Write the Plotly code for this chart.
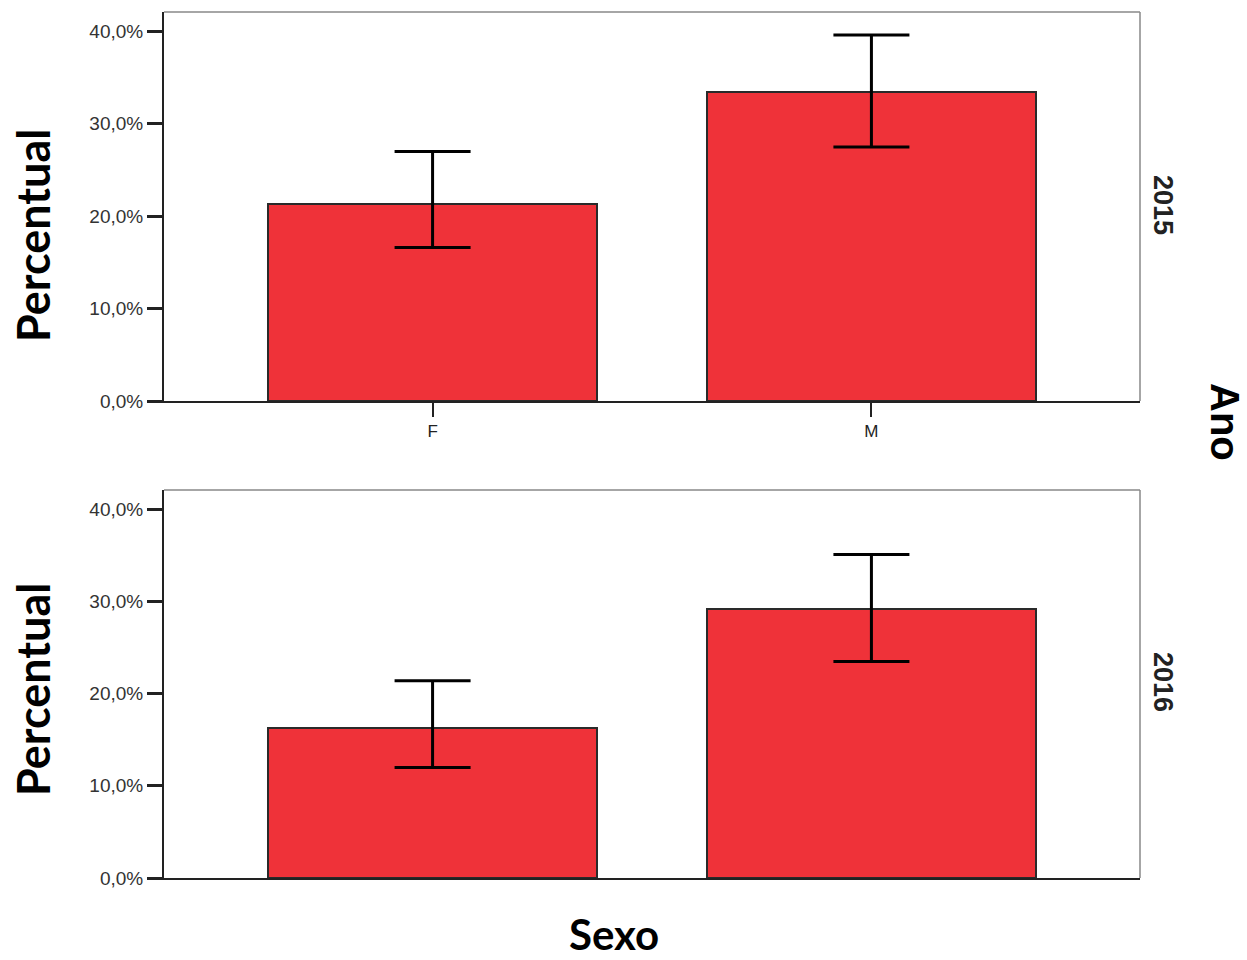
import plotly.graph_objects as go
from plotly.subplots import make_subplots

categories = ["F", "M"]
years = ["2015", "2016"]
values_2015 = [21.35, 33.4]
err_hi_2015 = [27.0, 39.6]
err_lo_2015 = [16.6, 27.5]
values_2016 = [16.25, 29.2]
err_hi_2016 = [21.4, 35.1]
err_lo_2016 = [12.0, 23.5]
tick_vals = [0, 10, 20, 30, 40]
tick_text = ["0,0%", "10,0%", "20,0%", "30,0%", "40,0%"]

W, H = 1247, 960
ML, MR, MT, MB = 164, 107, 12, 82
PW, PH = W - ML - MR, H - MT - MB

fig = make_subplots(rows=2, cols=1, vertical_spacing=0.1)

series = [(values_2015, err_hi_2015, err_lo_2015), (values_2016, err_hi_2016, err_lo_2016)]
for i, (v, hi, lo) in enumerate(series):
    fig.add_trace(go.Bar(
        x=categories, y=v, width=0.75,
        marker=dict(color="#EF3239", line=dict(color="#2a2a2a", width=2)),
        error_y=dict(type="data", symmetric=False,
                     array=[h - b for h, b in zip(hi, v)],
                     arrayminus=[b - l for b, l in zip(v, lo)],
                     color="black", thickness=3, width=38),
        showlegend=False,
    ), row=i + 1, col=1)

top_dom = [(878 - 401) / PH, 1.0]
bot_dom = [0.0, (878 - 490) / PH]

axis_font = dict(family="Liberation Sans, Arial", size=19, color="#333")
for i, dom in enumerate([top_dom, bot_dom]):
    r = i + 1
    fig.update_yaxes(domain=dom, range=[0, 42.1], tickvals=tick_vals, ticktext=tick_text,
                     showgrid=False, zeroline=False, showline=True, linecolor="#222",
                     linewidth=2, ticks="outside", ticklen=15, tickwidth=3,
                     tickcolor="#222", tickfont=axis_font, row=r, col=1)
    fig.update_xaxes(range=[-0.612, 1.612], showgrid=False, showline=True,
                     linecolor="#222", linewidth=2,
                     ticks="outside" if r == 1 else "", ticklen=14, tickwidth=2,
                     tickcolor="#222", showticklabels=(r == 1),
                     tickfont=dict(family="Liberation Sans, Arial", size=17, color="#222"),
                     row=r, col=1)

# thin gray frame (top and right edges)
for xr, yr in [("x domain", "y domain"), ("x2 domain", "y2 domain")]:
    fig.add_shape(type="line", xref=xr, yref=yr, x0=0, x1=1, y0=1, y1=1,
                  line=dict(color="#888", width=1.5))
    fig.add_shape(type="line", xref=xr, yref=yr, x0=1, x1=1, y0=0, y1=1,
                  line=dict(color="#888", width=1.5))

title_font = dict(family="Lato, Open Sans, sans-serif", size=45, color="black")
ann = []
for yc in [236, 690]:
    ann.append(dict(text="<b>Percentual</b>", x=(33 - ML) / PW, y=(878 - yc) / PH,
                    xref="paper", yref="paper", showarrow=False, textangle=-90,
                    font=title_font, xanchor="center", yanchor="middle"))
ann.append(dict(text="<b>Sexo</b>", x=(614 - ML) / PW, y=(878 - 934) / PH,
                xref="paper", yref="paper", showarrow=False,
                font=dict(family="Lato, Open Sans, sans-serif", size=42, color="black"),
                xanchor="center", yanchor="middle"))
ann.append(dict(text="<b>Ano</b>", x=(1225 - ML) / PW, y=(878 - 422) / PH,
                xref="paper", yref="paper", showarrow=False, textangle=90,
                font=dict(family="Liberation Sans, Arial", size=40, color="black"),
                xanchor="center", yanchor="middle"))
for yr, yc in zip(years, [205, 682]):
    ann.append(dict(text="<b>%s</b>" % yr, x=(1163 - ML) / PW, y=(878 - yc) / PH,
                    xref="paper", yref="paper", showarrow=False, textangle=90,
                    font=dict(family="Liberation Sans, Arial", size=27, color="#222"),
                    xanchor="center", yanchor="middle"))

fig.update_layout(width=W, height=H, margin=dict(l=ML, r=MR, t=MT, b=MB),
                  plot_bgcolor="white", paper_bgcolor="white", annotations=ann,
                  bargap=0)
fig.write_html("out.html")
